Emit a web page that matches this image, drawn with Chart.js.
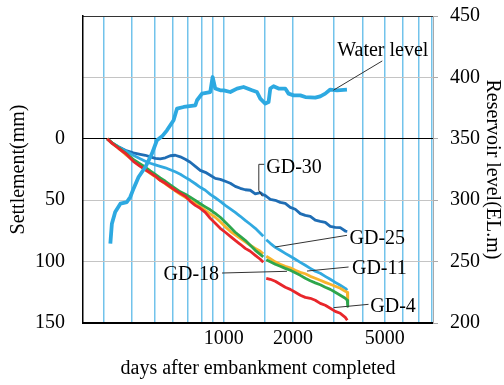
<!DOCTYPE html>
<html>
<head>
<meta charset="utf-8">
<script src="https://cdn.jsdelivr.net/npm/chart.js@4.4.1/dist/chart.umd.min.js"></script>
<style>
  html, body { margin: 0; padding: 0; background: #fff; }
</style>
</head>
<body>
<canvas id="myChart" width="504" height="385"></canvas>
<script>
// survey days (days after embankment completed) shared by the settlement gauges
const days = [312, 328, 349, 374, 405, 434, 457, 480, 505, 530, 558, 586, 616, 648, 681,
  716, 753, 791, 832, 874, 919, 966, 1016, 1068, 1122, 1180, 1240, 1304, 1371, 1441,
  1485, 1505, 1530, 1593, 1674, 1760, 1850, 1945, 2045, 2150, 2260, 2376, 2497, 2625, 2759, 2901,
  3049, 3206, 3370, 3438, 3455];

// settlement in mm, null = no reading
const gd30 = [0, 3.7, 6.5, 9.4, 11.4, 12.6, 13.4, 14.7, 15.9, 16.3, 15.5, 13.8, 13.4, 14.7, 16.7,
  19.1, 22.4, 25.7, 27.3, 29.7, 32.2, 33.0, 34.6, 36.2, 38.7, 40.3, 41.5, 41.9, 44.8, 43.9,
  45.6, 45.9, 46.8, 49.4, 50.1, 51.8, 52.6, 55.8, 57.4, 60.9, 62.3, 63.1, 66.3, 67.2, 68.0, 71.3,
  72.1, 72.4, 75.1, 75.3, null];
const gd25 = [0, 3.3, 6.5, 9.8, 13.4, 16.3, 18.3, 19.9, 21.2, 22.4, 23.6, 25.2, 26.9, 28.9, 31.4,
  33.8, 36.6, 39.5, 41.9, 45.2, 48.0, 50.9, 54.2, 57.0, 59.9, 63.1, 66.4, 69.6, 72.9, 77.0,
  79.4, null, 82.2, 85.1, 88.4, 90.8, 93.3, 95.7, 98.1, 100.6, 103.0, 105.5, 107.9, 109.5, 112.0, 114.4,
  116.9, 119.3, 121.8, 123.4, null];
const gd11 = [0, 3.7, 7.7, 12.6, 17.5, 22.0, 25.2, 28.1, 30.9, 33.8, 36.6, 39.5, 42.3, 45.2, 47.6,
  50.1, 52.5, 55.4, 58.2, 61.1, 63.9, 67.6, 71.7, 75.3, 78.2, 81.0, 83.9, 86.7, 89.2, 91.6,
  93.6, null, 95.7, 97.7, 100.2, 102.2, 103.8, 105.0, 107.1, 108.7, 109.9, 112.0, 113.6, 115.2, 116.9, 118.5,
  120.1, 121.7, 124.2, 125.0, 131.5];
const gd18 = [0, 3.3, 6.9, 11.4, 16.7, 20.4, 23.2, 26.1, 28.9, 31.8, 34.6, 37.5, 40.3, 43.2, 45.2,
  47.6, 50.1, 52.9, 55.4, 57.8, 60.7, 63.9, 68.0, 72.1, 76.1, 79.4, 82.7, 86.7, 90.8, 94.1,
  96.1, null, 98.5, 100.2, 102.2, 103.8, 105.5, 107.1, 109.1, 111.2, 113.6, 115.6, 117.3, 118.9, 120.9, 122.6,
  125.0, 127.4, 129.9, 131.5, 136.4];
const gd4 = [0, 3.7, 7.7, 11.8, 18.3, 22.4, 25.2, 27.7, 30.5, 33.8, 36.2, 39.1, 41.9, 44.4, 46.8,
  50.9, 54.2, 56.6, 59.9, 64.7, 68.8, 72.9, 76.1, 79.4, 82.7, 85.9, 89.2, 91.6, 94.9, 98.1,
  100.6, null, 113.6, 114.4, 116.0, 118.5, 120.9, 122.6, 125.0, 127.4, 129.1, 129.9, 131.5, 134.0, 135.6, 138.0,
  140.5, 142.1, 145.4, 147.8, null];

// reservoir water level (EL.m)
const waterDays = [322, 327, 338, 356, 380, 393, 406, 427, 457, 488, 513, 540, 567, 606, 627,
  670, 753, 766, 805, 874, 895, 919, 966, 1000, 1068, 1142, 1219, 1327, 1394, 1441,
  1515, 1566, 1593, 1646, 1730, 1850, 1912, 2010, 2150, 2260, 2497, 2625, 2759, 2901, 3102, 3428];
const waterLevel = [264.7, 280.9, 290.4, 297.2, 298.5, 302.6, 309.4, 318.9, 327.0, 337.9, 348.8, 352.0, 356.9, 365.1, 374.6,
  375.9, 377.3, 381.4, 386.8, 388.1, 400.3, 390.9, 389.5, 389.5, 388.1, 390.9, 392.2, 389.5, 388.1, 382.7,
  378.7, 380.0, 390.9, 392.8, 390.9, 390.9, 386.8, 385.4, 385.4, 384.0, 383.5, 384.6, 386.8, 390.1, 389.5, 390.1];

// axis ticks
const gridDays = [300, 400, 500, 600, 700, 800, 900, 1000, 1500, 2000, 3000, 4000, 5000, 6000, 7000, 8000];
const dayLabels = [1000, 2000, 5000];
const settlementTicks = [0, 50, 100, 150];

// labels with leader lines: [day, value] pairs on the given y axis
const notes = [
  { text: 'Water level', axis: 'y2', at: [3111, 417.8], leader: [[4878, 413.4], [2990, 389.5]] },
  { text: 'GD-30', axis: 'y', at: [1530, 27.9], leader: [[1500, 20.8], [1420, 20.8], [1420, 41.9], [1470, 46.8]] },
  { text: 'GD-25', axis: 'y', at: [3518, 85.3], leader: [[3428, 78.6], [1674, 88.1]] },
  { text: 'GD-11', axis: 'y', at: [3604, 110.3], leader: [[3483, 104.4], [2299, 107.7]] },
  { text: 'GD-18', axis: 'y', at: [548, 115.2], leader: [[983, 109.3], [1882, 107.9]] },
  { text: 'GD-4', axis: 'y', at: [4327, 141.0], leader: [[4253, 134.8], [2999, 137.5]] },
];

Chart.defaults.font.family = '"Liberation Serif", "Times New Roman", serif';
Chart.defaults.font.size = 20;
Chart.defaults.color = '#000';

const series = (label, xs, ys, color, width, axis) => ({
  label,
  data: xs.map((d, i) => ({ x: d, y: ys[i] })),
  borderColor: color,
  backgroundColor: color,
  borderWidth: width,
  borderJoinStyle: 'round',
  pointRadius: 0,
  tension: 0,
  spanGaps: false,
  yAxisID: axis,
});

// fixed axis box sizes so the plot area lands where it should
const fitBox = (w, h) => s => {
  if (w) s.width = w;
  if (h) s.height = h;
  s.paddingTop = 0;
  s.paddingBottom = 0;
};

const leaderLabels = {
  id: 'leaderLabels',
  afterDatasetsDraw(chart) {
    const { ctx, scales } = chart;
    ctx.save();
    ctx.strokeStyle = '#333';
    ctx.lineWidth = 1;
    ctx.fillStyle = '#000';
    ctx.font = '20px "Liberation Serif", serif';
    ctx.textBaseline = 'alphabetic';
    ctx.textAlign = 'left';
    notes.forEach(n => {
      const ys = scales[n.axis];
      ctx.beginPath();
      n.leader.forEach(([d, v], i) => {
        const px = scales.x.getPixelForValue(d);
        const py = ys.getPixelForValue(v);
        if (i) ctx.lineTo(px, py); else ctx.moveTo(px, py);
      });
      ctx.stroke();
      ctx.fillText(n.text, scales.x.getPixelForValue(n.at[0]), ys.getPixelForValue(n.at[1]));
    });
    ctx.restore();
  }
};

const ctx = document.getElementById('myChart').getContext('2d');

const chart = new Chart(ctx, {
  type: 'line',
  data: {
    datasets: [
      series('Water level', waterDays, waterLevel, '#2da9e1', 3.8, 'y2'),
      series('GD-4', days, gd4, '#e8262b', 2.8, 'y'),
      series('GD-18', days, gd18, '#2ea64b', 2.8, 'y'),
      series('GD-11', days, gd11, '#f7b42c', 2.8, 'y'),
      series('GD-25', days, gd25, '#31a9e0', 2.8, 'y'),
      series('GD-30', days, gd30, '#1f6db4', 2.8, 'y'),
    ]
  },
  options: {
    responsive: false,
    animation: false,
    layout: { padding: { top: 16, left: 0, right: 0, bottom: 0 } },
    plugins: { legend: { display: false }, tooltip: { enabled: false } },
    scales: {
      x: {
        type: 'logarithmic',
        min: 245,
        max: 8100,
        afterBuildTicks: s => { s.ticks = gridDays.map(v => ({ value: v })); },
        afterFit: fitBox(0, 62),
        grid: { color: '#72c3eb', lineWidth: 1.5, drawTicks: false },
        border: { color: '#000', width: 1.5 },
        ticks: {
          autoSkip: false, maxRotation: 0, padding: 4,
          callback: v => dayLabels.includes(v) ? String(v) : ''
        },
        title: { display: true, text: 'days after embankment completed', padding: { top: 0, bottom: 4 } }
      },
      y: {
        position: 'left',
        reverse: true,
        min: -100,
        max: 150,
        afterBuildTicks: s => { s.ticks = settlementTicks.map(v => ({ value: v })); },
        afterFit: fitBox(83, 0),
        grid: { display: false, drawTicks: false },
        border: { color: '#000', width: 1.5 },
        ticks: { padding: 18 },
        title: { display: true, text: 'Settlement(mm)', padding: { top: 7, bottom: 0 } }
      },
      y2: {
        position: 'right',
        min: 200,
        max: 450,
        afterFit: fitBox(71, 0),
        grid: {
          color: c => c.tick.value === 350 || c.tick.value === 200 ? '#000'
            : c.tick.value === 450 ? '#333' : '#c4c4c4',
          tickColor: '#aaa',
          tickLength: 5,
          lineWidth: 1
        },
        border: { color: '#aaa', width: 1 },
        ticks: { stepSize: 50, padding: 12 },
        title: { display: true, text: 'Reservoir level(EL.m)', padding: { top: 0, bottom: 0 } }
      }
    }
  },
  plugins: [leaderLabels]
});
</script>
</body>
</html>
